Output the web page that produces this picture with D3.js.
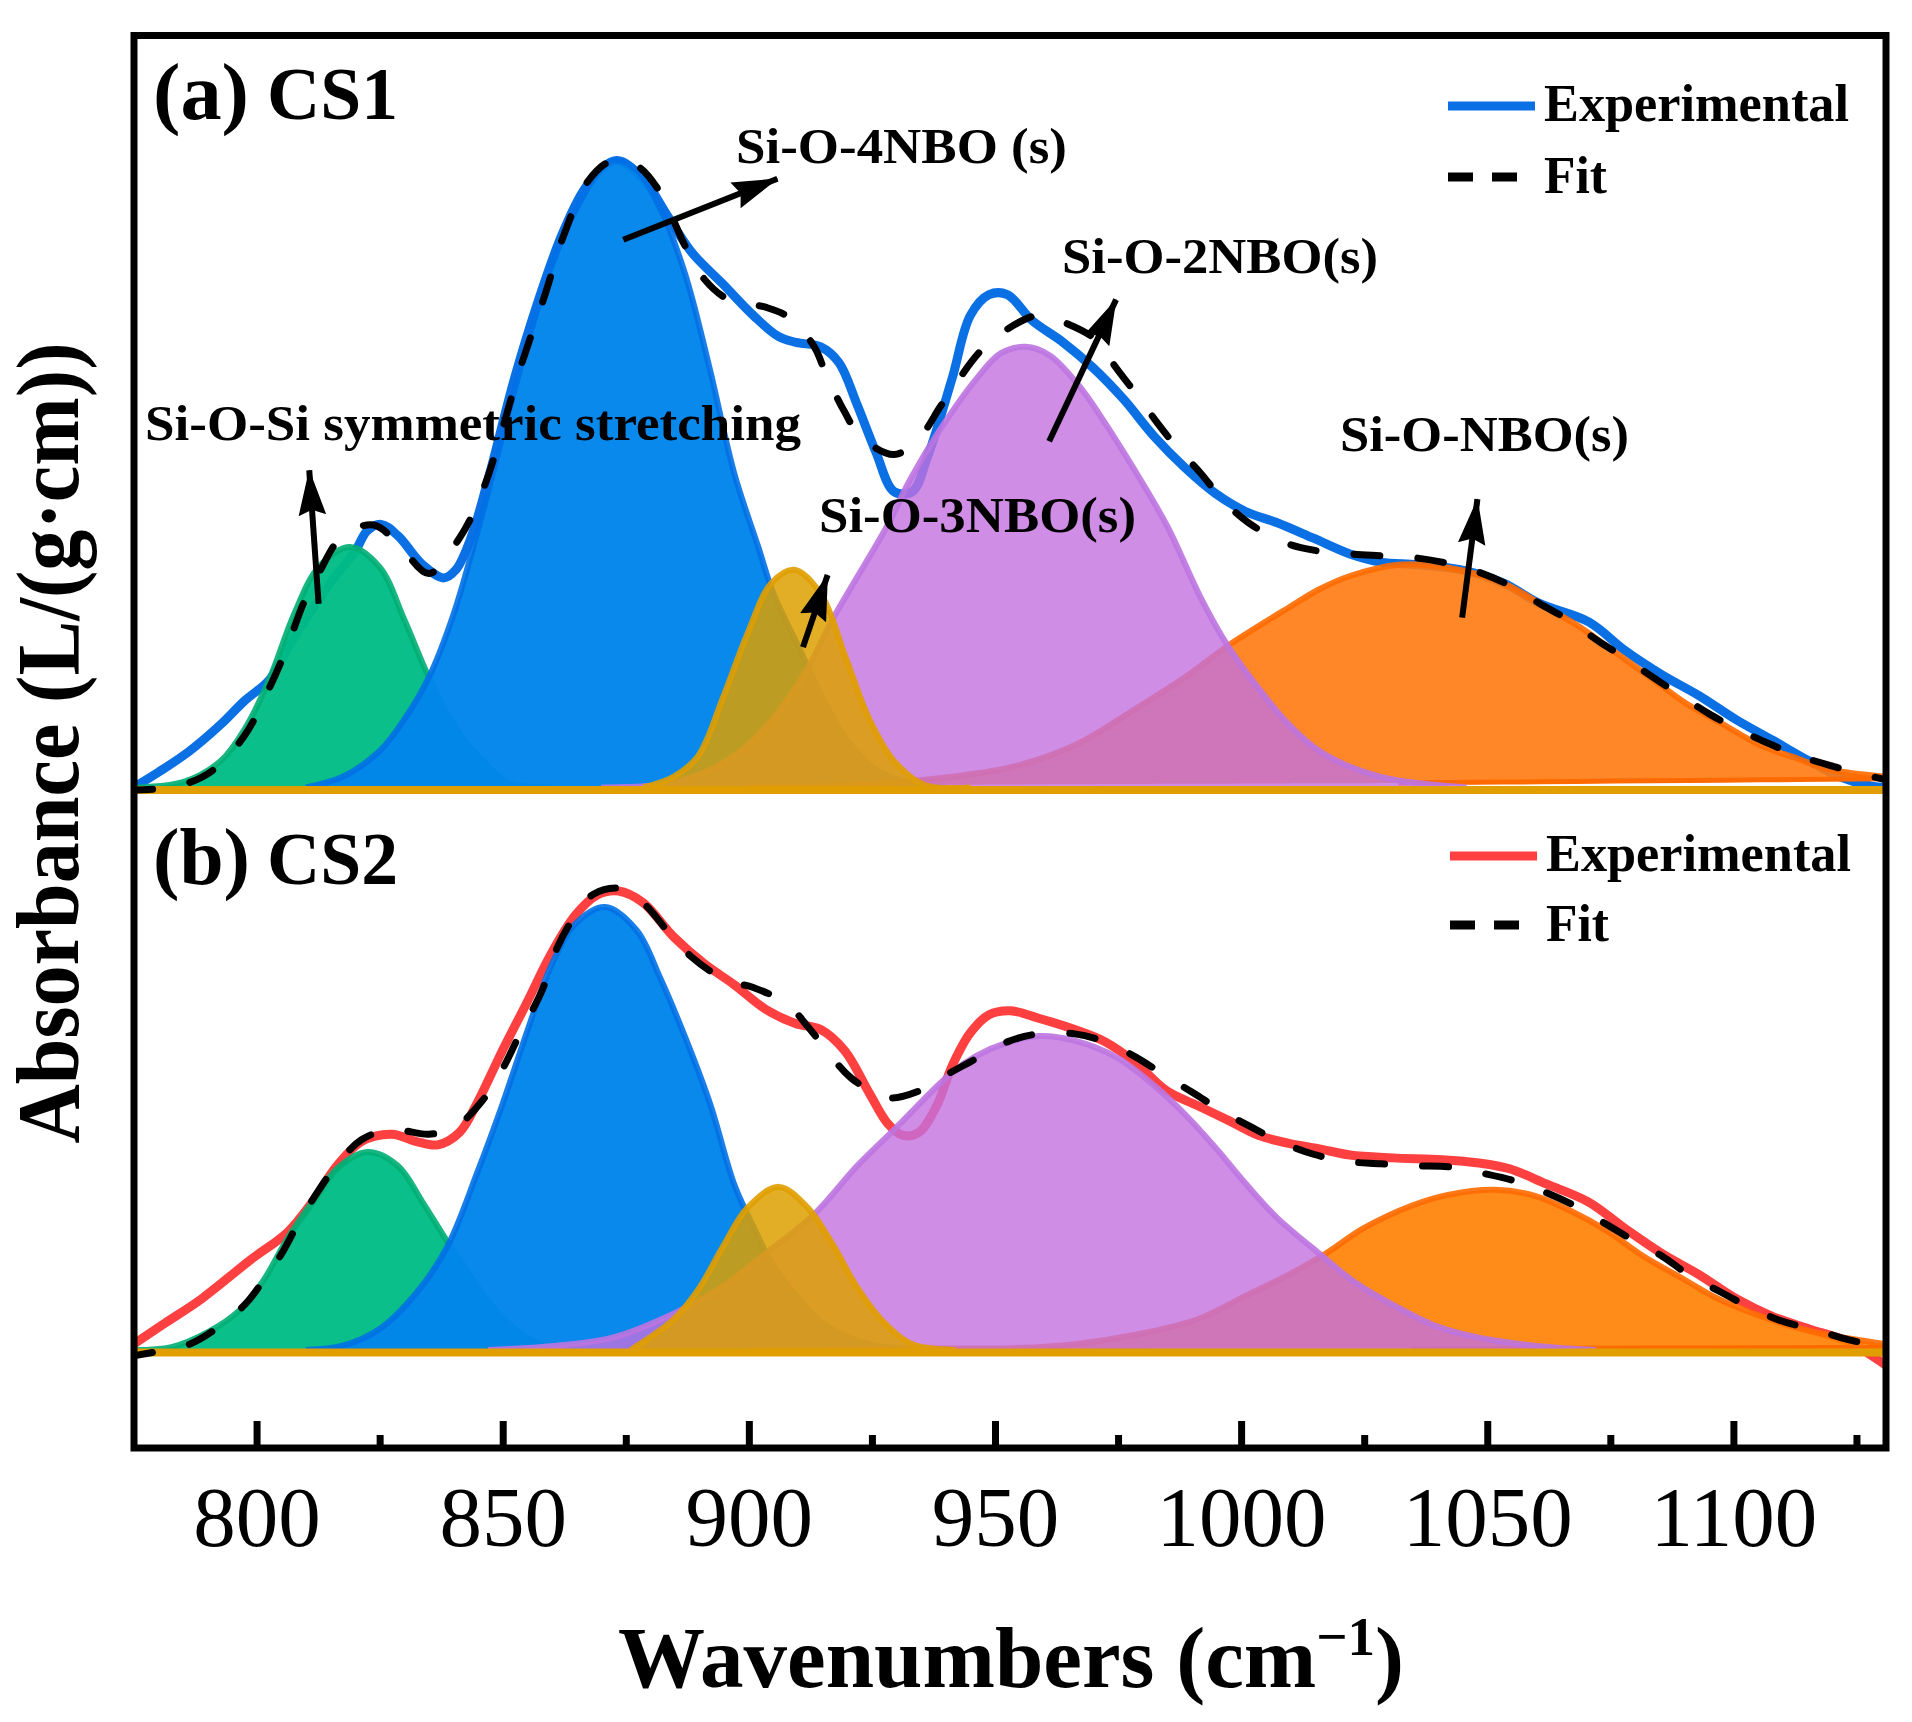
<!DOCTYPE html>
<html><head><meta charset="utf-8">
<script src="https://cdn.jsdelivr.net/npm/d3@7"></script>
<style>html,body{margin:0;padding:0;background:#fff}svg{display:block}text{font-family:"Liberation Serif",serif;fill:#000}</style>
</head><body><svg id="c" width="1912" height="1722"></svg>
<script>
// ---- panel (a) CS1 ----
const expA=[[775,0],[780.2,2.5],[786.4,5.8],[792.7,10],[797.6,13.8],[802.6,17.1],[807,23],[815,32.5],[820,37.5],[822.5,40.8],[825.3,41.8],[828.7,40],[833.7,35.4],[838,33.3],[840.5,34.6],[843.7,40],[847.4,50],[852.4,65],[857.3,77.5],[862.3,88.3],[867.3,95.8],[873.1,99.6],[878.5,96.7],[883.5,90.8],[888.4,85],[894.7,80],[900.9,75],[905.9,71.7],[909.6,70.7],[914.6,70],[918.3,67.5],[922,60.8],[925.8,53.3],[929.5,47],[933.2,47],[936.3,52.5],[941.3,65],[945,75],[948.8,78.3],[952.5,78.3],[957.5,74.2],[963.7,70.8],[969.9,66.7],[976.1,61.7],[982.3,55.8],[988.6,50.8],[994.8,46.7],[1001,43.8],[1007.2,42.1],[1014.7,39.6],[1022.1,37.1],[1028.4,35.8],[1035.8,35.4],[1044.5,34.6],[1053.2,32.5],[1060.7,29.2],[1070.6,26.3],[1078.1,21.7],[1085.5,17.9],[1093,14.6],[1100.5,10.8],[1108,7.5],[1115.4,4.2],[1121.6,1.7],[1127.9,.25],[1131,0]];
const fitA=[[775,-.4],[780,-.2],[786.4,.8],[791.4,2.9],[797.6,8.3],[802.6,15.8],[806.3,22.5],[809.5,29.2],[812.6,34],[817.5,40],[823.8,41.7],[829,38.5],[835,34],[841.2,39.6],[846.1,47.5],[853.6,66.7],[858.6,78.3],[862.3,87.5],[867.3,96.3],[872.3,99.6],[877.2,98.8],[881.6,95],[887.2,85.8],[890.9,80.8],[895.9,77.5],[903.4,76.3],[908.3,74.6],[913.3,70],[915.8,65.4],[919.5,59.6],[922.6,55.8],[929.5,52.9],[934.5,55.4],[938.8,60.4],[941.3,63.3],[946.9,69.2],[951.9,72.5],[958.7,75],[964.3,73.8],[971.1,70.8],[974.3,67],[979.2,62],[982.9,58],[987.2,53.8],[991.7,50],[996.6,45.4],[1001.6,42],[1008.5,39],[1014.7,37.7],[1022.1,37.1],[1028.4,36.8],[1035.2,36.5],[1041.4,35.7],[1048.3,34.2],[1054.5,32.1],[1060.7,29.2],[1066.3,26.7],[1072.5,23.3],[1077.5,20.8],[1083.7,17.5],[1089.3,14.6],[1095.5,11.5],[1101.1,9.2],[1108,6.7],[1114.2,4.8],[1121,3.2],[1127.9,1.8],[1131,1.2]];
const greenA=[[775,0],[785.2,.9],[792.7,4.2],[797.6,9.3],[802.6,17.2],[807.6,27.5],[812.6,35],[819,38.2],[825,35],[830,26.7],[835,17.5],[840,10],[845,5],[851,.8],[860,0]];
const blueA=[[810,0],[817.5,1.7],[825,5.8],[830,10.8],[835,17.5],[840,27.5],[845,41],[850,56],[855,70.5],[860,83],[865,92],[870,98.3],[873,99.6],[877.3,98],[882,92],[887,81.7],[892,66.7],[897,50],[902,38],[905,30.8],[910,22.5],[915,14.2],[920,7.5],[925,3.3],[932,.8],[940,0]];
const yellowA=[[878.5,0],[884.7,1.7],[889.7,5],[894.7,14.2],[899.6,24.2],[904.6,32.5],[909.2,34.6],[914.6,30.8],[919.6,20.8],[924.5,10.8],[929.5,4.2],[935.7,.4],[945,0]];
const purpleA=[[870,0],[885,.8],[897,5],[905,11],[912,19],[917,26.7],[928.2,41.7],[932.7,48.8],[938.8,56.8],[946.3,65],[951.2,69],[956.2,70],[961.2,68.6],[967.3,63.6],[971.1,59.4],[978,50.9],[985,41.5],[991.7,30.3],[997.3,22.5],[1003.5,15.8],[1009.7,10],[1015.9,5.8],[1022.1,3.3],[1028.4,1.7],[1035.8,.7],[1045.8,0]];
const orangeA=[[900,0],[922,.4],[941.3,1.7],[953.7,3.3],[966.2,6.7],[978.6,12.5],[988.6,17.5],[997.3,22.5],[1009.7,28.6],[1015.9,31.5],[1022.1,33.6],[1032,35.4],[1042,34.9],[1053.2,32.5],[1060.7,29.2],[1068.2,25.8],[1075.6,21.7],[1083.1,17.5],[1090.5,13.3],[1098,10],[1105.5,6.7],[1113,4.6],[1119.2,2.9],[1131,1.7]];
const orangeBaseA=[[775,0],[1030,.7],[1131,1.4]];
const arrowsA=[[812.6,29.2,810.7,50.4],[874.5,87,905.8,96.7],[911,22.3,916,33.75],[961,55,974.6,77.5],[1044.9,27,1048,45.8]];
// ---- panel (b) CS2 ----
const expB=[[775,.8],[781.5,3.75],[788.9,7.1],[798.9,12.5],[806.3,16.25],[811.3,20.4],[816.3,25.4],[821.3,28.75],[827.5,29.75],[832.5,28.75],[836.8,28.3],[841.2,30],[844.9,34.2],[849.9,41.25],[854.9,47.9],[859.8,54.6],[864.8,60],[869.2,62.75],[873.5,63.3],[878.5,61.7],[884.7,57],[890.9,53.3],[897,50.4],[903.4,47],[909.6,45],[914.6,44.2],[919.5,41.25],[924.5,35.4],[928.2,31.25],[931.3,29.6],[934.5,30],[938.2,33.75],[941.3,39.2],[945,43.75],[948.8,46.25],[953.1,46.8],[958.7,45.8],[966.2,44.2],[972.4,42.5],[978.6,39.6],[984.8,35.8],[991,33.75],[997.3,31.7],[1003.5,29.6],[1009.7,28.5],[1015.9,27.75],[1022.1,26.9],[1030.8,26.5],[1040.8,26.25],[1048.3,25.8],[1054.5,25],[1062,22.9],[1070.6,20.4],[1078.1,16.7],[1085.5,13.3],[1093,10.4],[1100.5,7.1],[1108,4.6],[1115.4,2.9],[1122.9,1.25],[1131,-2.1]];
const fitB=[[775,-.8],[779.5,-.25],[786.4,.8],[791.4,2.75],[797.6,6.25],[801.4,9.6],[805.1,13.3],[808.8,17.9],[812.6,22],[815.7,25],[821.3,29],[827.5,30.4],[835,29.75],[840.5,30.8],[846.1,34.6],[849.3,37.9],[853.6,43.75],[858,49.6],[861,55.4],[864.8,60],[868.5,62.9],[874.8,63.6],[879.2,61.25],[884.1,57.25],[888.4,54.2],[895.3,51],[900.9,50],[907.7,47.75],[912,44.6],[916.4,40.8],[920.8,37.5],[928.2,34.8],[934.5,35.7],[940,37.9],[945,39.75],[952.5,42.5],[958.7,43.6],[966.2,43.6],[972.4,42.5],[978.6,40.4],[984.2,38],[990.4,35.4],[996,33],[1002.2,30.7],[1007.8,28.75],[1014.7,27],[1021.5,26],[1028.4,25.7],[1035.2,25.4],[1042.7,25.25],[1048.9,24.4],[1055.7,23.3],[1061.3,21.9],[1068.2,19.75],[1073.8,17.5],[1080,15],[1085.6,12.9],[1091.2,10.25],[1097.4,8],[1103.6,5.8],[1109.8,4],[1116.7,2.75],[1123.5,1.4],[1131,.4]];
const greenB=[[775,0],[782.7,.4],[790.2,2.5],[796.4,5.4],[801.4,9.6],[806.3,15.4],[811.3,20.4],[816.3,25],[822.5,27.3],[828.7,25.4],[833.7,20.4],[838.7,15],[843.7,10],[848.6,5.4],[854.9,1.7],[861,0]];
const blueB=[[810,0],[817.5,.6],[825,2.9],[832.5,7.9],[838.7,14.2],[844.9,24.6],[849.9,33.8],[854.9,43.8],[859.8,52.9],[864.8,58.8],[870.8,61.1],[877.2,57.9],[882,51.3],[887.2,42.9],[892.2,33.8],[897,22.9],[900.3,17.9],[904.6,12.1],[909.6,7.5],[915.8,3.3],[924.5,.8],[937,0]];
const yellowB=[[876,0],[884.7,4.2],[889.7,8.3],[894.7,14.2],[899.7,19.6],[906.1,22.5],[912,19.6],[917,14.6],[921.9,8.75],[926.9,4.2],[933.2,.8],[942,0]];
const purpleB=[[847,0],[861,.6],[872.3,1.7],[884.7,5],[894.7,8.75],[903.4,13.3],[913.3,18.75],[922,25.4],[929.5,30.4],[941.3,38.3],[946.3,40.6],[952.5,42.4],[959,43.3],[966,42.7],[974.9,40.3],[982.3,36.5],[988.6,32.5],[994.8,27.9],[1001,22.9],[1007.2,18.3],[1015.9,13.3],[1023.4,9.2],[1030.8,6.25],[1039.6,3.3],[1048.3,1.7],[1059.5,.6],[1072,0]];
const orangeB=[[900,0],[941.3,.2],[953.7,.25],[966.2,.8],[978.6,2.1],[991,4.2],[1001,7.5],[1009.7,10.4],[1017.2,13.3],[1024.9,16.8],[1034.6,19.9],[1042,21.4],[1051.5,22.1],[1059.5,21.3],[1066.9,19.2],[1074.4,16.4],[1081.8,12.9],[1089.3,10],[1096.8,7.1],[1104.2,5],[1111.7,3.3],[1119.2,2.1],[1131,.8]];
const orangeBaseB=[[775,0],[1050,.2],[1131,.35]];
// ---- axis ----
const majorTicks=[800,850,900,950,1000,1050,1100];
const minorTicks=[825,875,925,975,1025,1075,1125];
const annotationsA=["Si-O-Si symmetric stretching","Si-O-4NBO (s)","Si-O-3NBO(s)","Si-O-2NBO(s)","Si-O-NBO(s)"];

const svg=d3.select("#c");
const L=134,R=1886,T=35.5,B=1448;
const x=d3.scaleLinear().domain([775.1,1131]).range([L,R]);
const yA=d3.scaleLinear().domain([0,100]).range([787.5,158]);
const yB=d3.scaleLinear().domain([0,100]).range([1350,625]);
const defs=svg.append("defs");
defs.append("clipPath").attr("id","plot").append("rect").attr("x",L).attr("y",T).attr("width",R-L).attr("height",B-T);
const m=defs.append("marker").attr("id","head").attr("viewBox","0 0 10 10").attr("refX",9.8).attr("refY",5)
 .attr("markerUnits","userSpaceOnUse").attr("markerWidth",46).attr("markerHeight",46).attr("orient","auto");
m.append("path").attr("d","M0,2 L10,5 L0,8 L1.2,5 Z").attr("fill","#000");

const cur=d3.curveCatmullRom.alpha(.5);
function interp(base){return d3.scaleLinear().domain(base.map(d=>d[0])).range(base.map(d=>d[1]));}
function fill(g,y,data,color,op,stroke,base){
  const b=base?interp(base):(()=>0);
  g.append("path").attr("d",d3.area().x(d=>x(d[0])).y1(d=>y(d[1])).y0(d=>y(b(d[0]))).curve(cur)(data))
    .attr("fill",color).attr("fill-opacity",op);
  g.append("path").attr("d",d3.line().x(d=>x(d[0])).y(d=>y(d[1])).curve(cur)(data))
    .attr("fill","none").attr("stroke",stroke).attr("stroke-width",6).attr("stroke-opacity",.9);
  if(base){g.append("path").attr("d",d3.line().x(d=>x(d[0])).y(d=>y(b(d[0])))(data.filter(d=>d[0]>1030)))
    .attr("fill","none").attr("stroke",stroke).attr("stroke-width",5);}
}
function panel(y,S,expColor,orangeColor){
  const g=svg.append("g").attr("clip-path","url(#plot)");
  const ln=d3.line().x(d=>x(d[0])).y(d=>y(d[1])).curve(cur);
  g.append("path").attr("d",ln(S.exp)).attr("fill","none").attr("stroke",expColor).attr("stroke-width",9);
  fill(g,y,S.green,"#00BC84",.96,"#00AE74");
  fill(g,y,S.blue,"#0085EA",.97,"#0070E6");
  fill(g,y,S.orange,orangeColor,.9,"#FF6A00",S.oBase);
  fill(g,y,S.purple,"#C370E0",.8,"#BC74E0");
  fill(g,y,S.yellow,"#DDA000",.85,"#E09E00");
  g.append("line").attr("x1",L).attr("x2",R).attr("y1",y(0)+2.5).attr("y2",y(0)+2.5).attr("stroke","#E09E00").attr("stroke-width",8);
  g.append("path").attr("d",ln(S.fit)).attr("fill","none").attr("stroke","#000").attr("stroke-width",7)
    .attr("stroke-linecap","round").attr("stroke-dasharray","26,38").attr("stroke-dashoffset",7);
}
panel(yA,{exp:expA,fit:fitA,green:greenA,blue:blueA,yellow:yellowA,purple:purpleA,orange:orangeA,oBase:orangeBaseA},"#0A70E4","#FF7A10");
panel(yB,{exp:expB,fit:fitB,green:greenB,blue:blueB,yellow:yellowB,purple:purpleB,orange:orangeB,oBase:orangeBaseB},"#FF4040","#FF8000");

// arrows
svg.append("g").selectAll("line").data(arrowsA).join("line")
 .attr("x1",d=>x(d[0])).attr("y1",d=>yA(d[1])).attr("x2",d=>x(d[2])).attr("y2",d=>yA(d[3]))
 .attr("stroke","#000").attr("stroke-width",6).attr("marker-end","url(#head)");

// frame + axes
svg.append("rect").attr("x",L).attr("y",T).attr("width",R-L).attr("height",B-T).attr("fill","none").attr("stroke","#000").attr("stroke-width",7);
const axMaj=d3.axisBottom(x).tickValues(majorTicks).tickSizeInner(-27).tickSizeOuter(0).tickFormat(d3.format("d"));
const gx=svg.append("g").attr("transform",`translate(0,${B})`).call(axMaj);
gx.select(".domain").remove();
gx.selectAll("line").attr("stroke","#000").attr("stroke-width",7);
gx.selectAll("text").attr("font-size",85).attr("y",1546-B).attr("dy",0);
const axMin=d3.axisBottom(x).tickValues(minorTicks).tickSizeInner(-13).tickSizeOuter(0).tickFormat("");
const gm=svg.append("g").attr("transform",`translate(0,${B})`).call(axMin);
gm.select(".domain").remove();
gm.selectAll("line").attr("stroke","#000").attr("stroke-width",7);

function t(str,px,py,size,len,bold=true){
  const e=svg.append("text").attr("x",px).attr("y",py).attr("font-size",size).attr("font-weight",bold?"bold":"normal").text(str);
  if(len) e.attr("textLength",len).attr("lengthAdjust","spacingAndGlyphs");
  return e;
}
t("(a)",153,119,80,96); t("CS1",267,119,75,131);
t("(b)",153,884,80,97); t("CS2",267,884,75,131);
t(annotationsA[0],145,440,51,656);
t(annotationsA[1],736,163,51,331);
t(annotationsA[2],819,532,51,317);
t(annotationsA[3],1062,273,51,316);
t(annotationsA[4],1340,451,51,289);
// legends
function legend(color,y1,y2,b1,b2,lx){
  svg.append("line").attr("x1",lx).attr("x2",lx+87).attr("y1",y1).attr("y2",y1).attr("stroke",color).attr("stroke-width",9);
  svg.append("line").attr("x1",lx).attr("x2",lx+69).attr("y1",y2).attr("y2",y2).attr("stroke","#000").attr("stroke-width",9).attr("stroke-dasharray","25,19");
  t("Experimental",lx+96,b1,52,305);
  t("Fit",lx+96,b2,52,63);
}
legend("#0A70E4",106,177,121,193,1448);
legend("#FF4040",856,925,871,941,1450);
// axis titles
const tx=t("",1011,1687,87).attr("text-anchor","middle");
tx.append("tspan").text("Wavenumbers (cm");
tx.append("tspan").text("\u22121").attr("font-size",55).attr("dy",-32);
tx.append("tspan").text(")").attr("dy",32);
svg.append("text").attr("transform","translate(78,743) rotate(-90)").attr("text-anchor","middle")
  .attr("font-size",88).attr("font-weight","bold").attr("textLength",801).attr("lengthAdjust","spacingAndGlyphs").text("Absorbance (L/(g\u00B7cm))");
</script></body></html>
